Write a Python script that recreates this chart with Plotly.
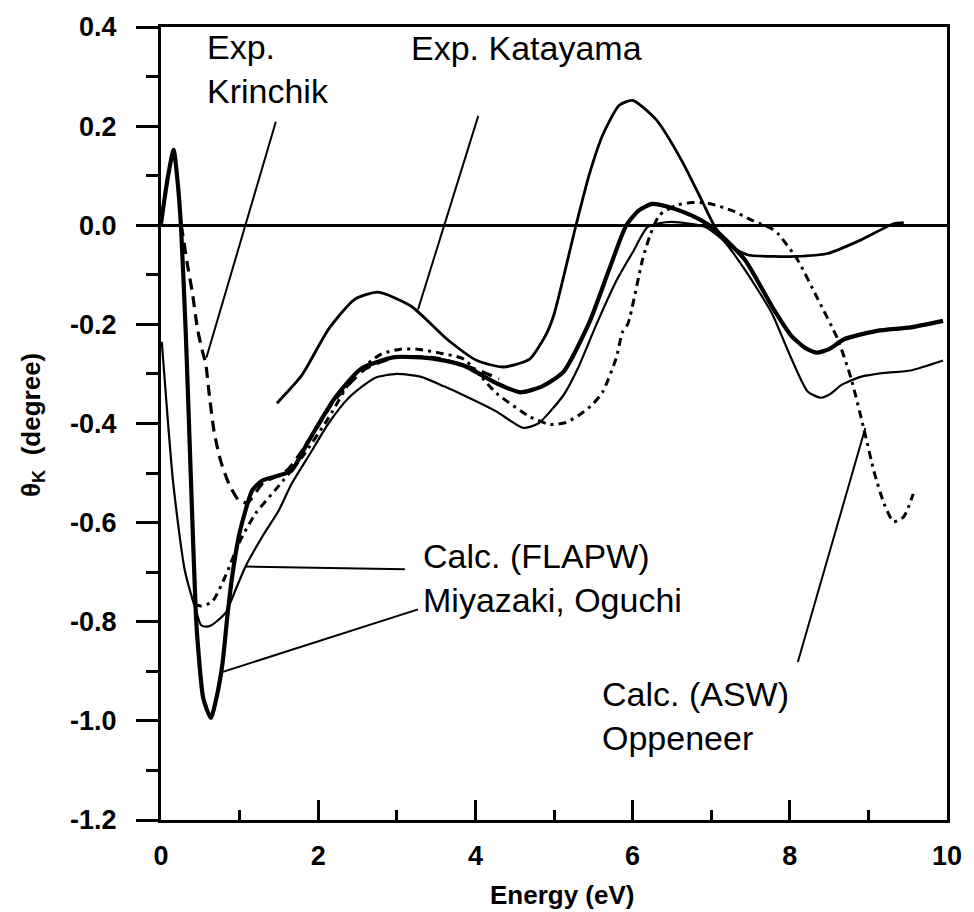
import plotly.graph_objects as go

# ---------------- data ----------------
# Calc. (FLAPW) Miyazaki, Oguchi - thick curve
flapw_thick_E = [0.0, 0.08, 0.16, 0.21, 0.255, 0.318, 0.38, 0.444, 0.473, 0.537, 0.634, 0.705, 0.78,
                 0.845, 0.906, 0.99, 1.076, 1.16, 1.29, 1.5, 1.66, 1.875, 2.21, 2.55, 2.97, 3.22, 3.5,
                 3.85, 4.27, 4.57, 4.85, 5.12, 5.45, 5.7, 5.92, 6.08, 6.25, 6.5, 6.75, 7.01, 7.43, 7.77,
                 8.02, 8.2, 8.34, 8.5, 8.69, 9.11, 9.54, 9.95]
flapw_thick_theta = [0.003, 0.09, 0.152, 0.09, -0.004, -0.229, -0.51, -0.787, -0.854, -0.954, -0.994,
                     -0.954, -0.887, -0.788, -0.708, -0.628, -0.575, -0.535, -0.515, -0.505, -0.495,
                     -0.436, -0.349, -0.289, -0.266, -0.266, -0.27, -0.283, -0.319, -0.337, -0.325,
                     -0.296, -0.196, -0.09, 0.0, 0.03, 0.043, 0.035, 0.02, -0.004, -0.07, -0.163,
                     -0.223, -0.248, -0.257, -0.25, -0.23, -0.213, -0.206, -0.193]

# Calc. (FLAPW) Miyazaki, Oguchi - thin curve
flapw_thin_E = [0.01, 0.08, 0.155, 0.30, 0.45, 0.51, 0.58, 0.64, 0.74, 0.83, 0.95, 1.08, 1.29, 1.5,
                1.66, 1.9, 2.13, 2.39, 2.72, 3.0, 3.31, 3.6, 3.85, 4.27, 4.45, 4.61, 4.8, 5.12, 5.3,
                5.54, 5.8, 6.0, 6.19, 6.42, 6.59, 6.93, 7.15, 7.43, 7.77, 8.02, 8.23, 8.4, 8.52, 8.65,
                8.9, 9.2, 9.54, 9.95]
flapw_thin_theta = [-0.235, -0.38, -0.52, -0.694, -0.78, -0.807, -0.81, -0.807, -0.795, -0.78, -0.735,
                    -0.687, -0.628, -0.575, -0.522, -0.46, -0.40, -0.348, -0.308, -0.3, -0.306, -0.325,
                    -0.343, -0.376, -0.395, -0.409, -0.4, -0.343, -0.29, -0.2, -0.11, -0.055, -0.004,
                    0.006, 0.006, -0.004, -0.03, -0.09, -0.177, -0.269, -0.336, -0.348, -0.34, -0.323,
                    -0.306, -0.298, -0.293, -0.273]

# Calc. (ASW) Oppeneer - dash-dot
asw_E = [0.42, 0.51, 0.65, 0.82, 0.99, 1.2, 1.45, 1.79, 2.13, 2.46, 2.8, 3.05, 3.26, 3.55, 3.85, 4.27,
         4.69, 4.95, 5.15, 5.33, 5.5, 5.62, 5.79, 5.87, 5.94, 6.13, 6.23, 6.34, 6.55, 6.76, 6.97, 7.26,
         7.52, 7.77, 7.85, 8.1, 8.36, 8.61, 8.78, 8.95, 9.07, 9.2, 9.32, 9.45, 9.57]
asw_theta = [-0.765, -0.768, -0.76, -0.708, -0.642, -0.582, -0.535, -0.469, -0.389, -0.303, -0.26,
             -0.25, -0.25, -0.258, -0.27, -0.339, -0.386, -0.402, -0.398, -0.382, -0.36, -0.336,
             -0.269, -0.216, -0.199, -0.067, -0.017, 0.02, 0.04, 0.046, 0.044, 0.03, 0.01, -0.007,
             -0.017, -0.07, -0.15, -0.23, -0.309, -0.416, -0.496, -0.562, -0.598, -0.588, -0.542]

# Exp. Krinchik - dashed
krinchik_E = [0.255, 0.275, 0.34, 0.4, 0.465, 0.53, 0.57, 0.61, 0.675, 0.76, 0.865, 0.99, 1.1, 1.3,
              1.6, 1.9, 2.2, 2.6, 3.0, 3.5, 4.0, 4.3]
krinchik_theta = [0.0, -0.017, -0.083, -0.137, -0.21, -0.256, -0.28, -0.336, -0.416, -0.476, -0.522,
                  -0.555, -0.56, -0.52, -0.495, -0.43, -0.355, -0.29, -0.266, -0.268, -0.29, -0.31]

# Exp. Katayama - medium solid
katayama_E = [1.475, 1.79, 2.13, 2.46, 2.76, 3.18, 3.64, 4.02, 4.36, 4.69, 4.9, 5.0, 5.28, 5.45, 5.62,
              5.83, 6.0, 6.3, 6.63, 6.88, 7.05, 7.26, 7.47, 7.8, 8.06, 8.48, 8.9, 9.32, 9.45]
katayama_theta = [-0.359, -0.303, -0.21, -0.15, -0.135, -0.163, -0.23, -0.273, -0.286, -0.27, -0.22,
                  -0.18, 0.0, 0.103, 0.182, 0.242, 0.252, 0.213, 0.129, 0.05, -0.004, -0.044, -0.06,
                  -0.063, -0.063, -0.057, -0.03, 0.003, 0.005]

x_tick_vals = [0, 2, 4, 6, 8, 10]
x_tick_text = ["0", "2", "4", "6", "8", "10"]
y_tick_vals = [0.4, 0.2, 0.0, -0.2, -0.4, -0.6, -0.8, -1.0, -1.2]
y_tick_text = ["0.4", "0.2", "0.0", "-0.2", "-0.4", "-0.6", "-0.8", "-1.0", "-1.2"]

# ---------------- layout helpers ----------------
W, H = 974, 912
L, R, T, B = 161, 21, 17, 92
PW, PH = W - L - R, H - T - B


def pxx(p):
    return (p - L) / PW


def pxy(p):
    return (H - B - p) / PH


fig = go.Figure()

fig.add_trace(go.Scatter(x=asw_E, y=asw_theta, mode="lines", name="Calc. (ASW) Oppeneer",
                         line=dict(color="black", width=3, dash="8px,5px,3px,5px", shape="spline",
                                   smoothing=0.6)))
fig.add_trace(go.Scatter(x=krinchik_E, y=krinchik_theta, mode="lines", name="Exp. Krinchik",
                         line=dict(color="black", width=3.2, dash="11px,7px", shape="spline",
                                   smoothing=0.6)))
fig.add_trace(go.Scatter(x=katayama_E, y=katayama_theta, mode="lines", name="Exp. Katayama",
                         line=dict(color="black", width=2.8, shape="spline", smoothing=0.6)))
fig.add_trace(go.Scatter(x=flapw_thin_E, y=flapw_thin_theta, mode="lines", name="Calc. (FLAPW) thin",
                         line=dict(color="black", width=2.2, shape="spline", smoothing=0.6)))
fig.add_trace(go.Scatter(x=flapw_thick_E, y=flapw_thick_theta, mode="lines", name="Calc. (FLAPW) thick",
                         line=dict(color="black", width=4.2, shape="spline", smoothing=0.6)))

label_font = dict(family="Liberation Sans, Arial, sans-serif", size=34, color="black")

texts = [
    ("Exp.<br>Krinchik", 205, 60),
    ("Exp. Katayama", 411, 38),
    ("Calc. (FLAPW)<br>Miyazaki, Oguchi", 423, 575),
    ("Calc. (ASW)<br>Oppeneer", 603, 715),
]
annotations = []
for txt, xp, yp in texts:
    annotations.append(dict(text=txt, x=pxx(xp), y=pxy(yp), xref="paper", yref="paper",
                            xanchor="left", yanchor="middle", align="left", showarrow=False,
                            font=label_font))

# axis titles
annotations.append(dict(text="Energy (eV)", x=pxx(566), y=pxy(896), xref="paper", yref="paper",
                        xanchor="center", yanchor="middle", showarrow=False,
                        font=dict(family="Liberation Sans, Arial, sans-serif", size=26,
                                  color="black", weight="bold")))
annotations.append(dict(text="θ<sub>K</sub>  (degree)", x=pxx(32), y=pxy(420), xref="paper",
                        yref="paper", xanchor="center", yanchor="middle", showarrow=False,
                        textangle=-90,
                        font=dict(family="Liberation Sans, Arial, sans-serif", size=26,
                                  color="black", weight="bold")))

leaders = [
    ((276.7, 113), (206.7, 352)),
    ((480.7, 107), (420, 303)),
    ((246.7, 563.3), (406.7, 566)),
    ((223.3, 670), (420, 606.7)),
    ((870.7, 423), (802.7, 660)),
]
shapes = []
for (x0, y0), (x1, y1) in leaders:
    shapes.append(dict(type="line", xref="paper", yref="paper", x0=pxx(x0), y0=pxy(y0),
                       x1=pxx(x1), y1=pxy(y1), line=dict(color="black", width=2)))

tick_font = dict(family="Liberation Sans, Arial, sans-serif", size=27, color="black", weight="bold")

fig.update_layout(
    width=W, height=H,
    margin=dict(l=L, r=R, t=T, b=B, pad=0),
    paper_bgcolor="white", plot_bgcolor="white",
    showlegend=False,
    annotations=annotations,
    shapes=shapes,
    xaxis=dict(range=[0, 10], showgrid=False, zeroline=False, showline=True, linecolor="black",
               linewidth=3, mirror=True, ticks="inside", ticklen=20, tickwidth=2.5,
               tickcolor="black", tickvals=x_tick_vals, ticktext=x_tick_text, tickfont=tick_font,
               ticklabelstandoff=10,
               minor=dict(ticks="inside", ticklen=10, tickwidth=2.5, tickcolor="black", dtick=1,
                          showgrid=False)),
    yaxis=dict(range=[-1.2, 0.4], showgrid=False, zeroline=True, zerolinecolor="black",
               zerolinewidth=2.5, showline=True, linecolor="black", linewidth=3, mirror=True,
               ticks="outside", ticklen=22, tickwidth=2.5, tickcolor="black",
               tickvals=y_tick_vals, ticktext=y_tick_text, tickfont=tick_font,
               ticklabelstandoff=14,
               minor=dict(ticks="outside", ticklen=12, tickwidth=2.5, tickcolor="black", dtick=0.1,
                          showgrid=False)),
)

fig.write_html("out.html")
